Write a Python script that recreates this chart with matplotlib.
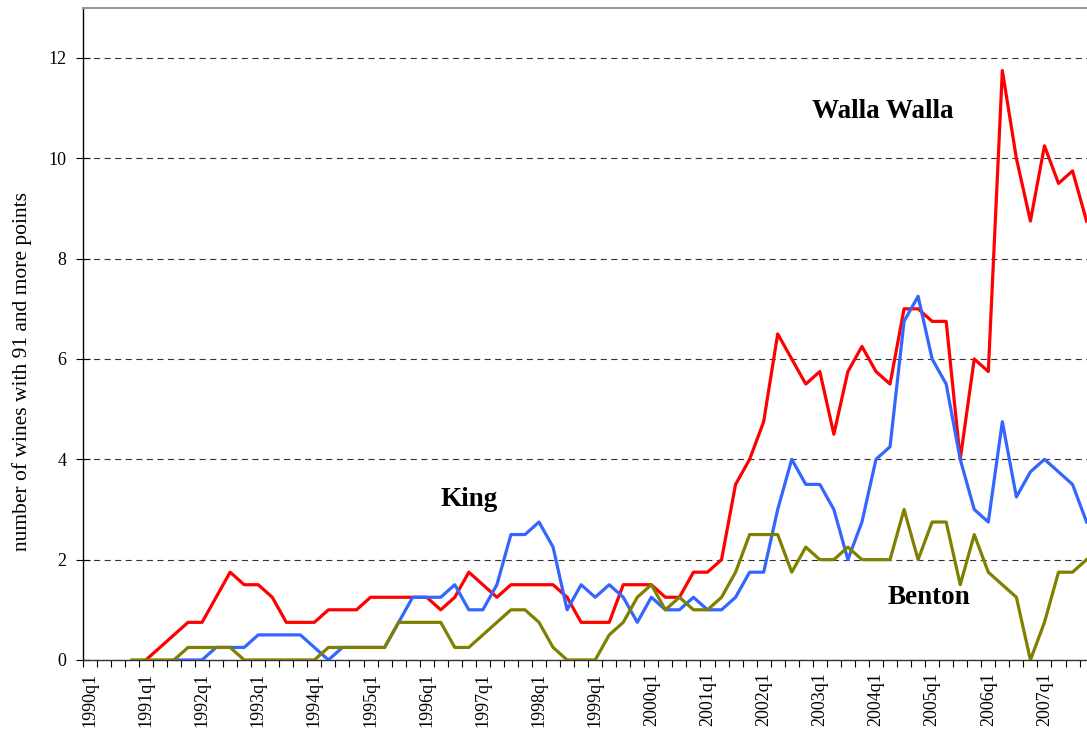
import numpy as np
import matplotlib as mpl
mpl.use('Agg')
import matplotlib.pyplot as plt

mpl.rc('font', family='Liberation Serif', size=13)

nan = np.nan

# quarters 1990q1 .. 2007q4
quarters = [f'{y}q{q}' for y in range(1990, 2008) for q in range(1, 5)]

walla_walla = [nan, nan, nan, nan, 0, 0.25, 0.5, 0.75, 0.75, 1.25,
               1.75, 1.5, 1.5, 1.25, 0.75, 0.75, 0.75, 1.0, 1.0, 1.0,
               1.25, 1.25, 1.25, 1.25, 1.25, 1.0, 1.25, 1.75, 1.5, 1.25,
               1.5, 1.5, 1.5, 1.5, 1.25, 0.75, 0.75, 0.75, 1.5, 1.5,
               1.5, 1.25, 1.25, 1.75, 1.75, 2.0, 3.5, 4.0, 4.75, 6.5,
               6.0, 5.5, 5.75, 4.5, 5.75, 6.25, 5.75, 5.5, 7.0, 7.0,
               6.75, 6.75, 4.0, 6.0, 5.75, 11.75, 10.0, 8.75, 10.25, 9.5,
               9.75, 8.75]

king = [nan, nan, nan, nan, nan, nan, 0, 0, 0, 0.25,
        0.25, 0.25, 0.5, 0.5, 0.5, 0.5, 0.25, 0, 0.25, 0.25,
        0.25, 0.25, 0.75, 1.25, 1.25, 1.25, 1.5, 1.0, 1.0, 1.5,
        2.5, 2.5, 2.75, 2.25, 1.0, 1.5, 1.25, 1.5, 1.25, 0.75,
        1.25, 1.0, 1.0, 1.25, 1.0, 1.0, 1.25, 1.75, 1.75, 3.0,
        4.0, 3.5, 3.5, 3.0, 2.0, 2.75, 4.0, 4.25, 6.75, 7.25,
        6.0, 5.5, 4.0, 3.0, 2.75, 4.75, 3.25, 3.75, 4.0, 3.75,
        3.5, 2.75]

benton = [nan, nan, nan, 0, 0, 0, 0, 0.25, 0.25, 0.25,
          0.25, 0, 0, 0, 0, 0, 0, 0.25, 0.25, 0.25,
          0.25, 0.25, 0.75, 0.75, 0.75, 0.75, 0.25, 0.25, 0.5, 0.75,
          1.0, 1.0, 0.75, 0.25, 0, 0, 0, 0.5, 0.75, 1.25,
          1.5, 1.0, 1.25, 1.0, 1.0, 1.25, 1.75, 2.5, 2.5, 2.5,
          1.75, 2.25, 2.0, 2.0, 2.25, 2.0, 2.0, 2.0, 3.0, 2.0,
          2.75, 2.75, 1.5, 2.5, 1.75, 1.5, 1.25, 0, 0.75, 1.75,
          1.75, 2.0]

x = np.arange(len(quarters))

fig = plt.figure(figsize=(10.87, 7.32), dpi=100)
ax = fig.add_axes([0.0761, 0.0984, 0.9239, 0.8909])

ax.plot(x, walla_walla, color='#ff0000', lw=2.3, zorder=3)
ax.plot(x, king, color='#3366ff', lw=2.3, zorder=4)
ax.plot(x, benton, color='#808000', lw=2.3, zorder=5)

ax.set_xlim(-0.5, 71.03)
ax.set_ylim(0, 13)

# y axis
ax.set_yticks(np.arange(0, 13, 2))
ax.yaxis.grid(True, ls=(0, (5.5, 4)), color='#333333', lw=0.8)
ax.tick_params(axis='y', length=9.5, width=0.8, direction='inout', labelsize=13, pad=7)
ax.set_ylabel('number of wines with 91 and more points', fontsize=15.5)
ax.yaxis.set_label_coords(-0.0505, 0.4416)

# x axis: ticks between quarters, labels on every q1
ax.set_xticks(np.arange(len(quarters)) - 0.5)
ax.set_xticklabels([])
ax.tick_params(axis='x', which='major', length=5, width=0.8, direction='out')
ax.set_xticks(x[::4], minor=True)
ax.set_xticklabels(quarters[::4], minor=True, rotation=90, fontsize=13)
ax.tick_params(axis='x', which='minor', length=0, pad=9)

for side in ['left', 'bottom']:
    ax.spines[side].set_color('#000000')
    ax.spines[side].set_linewidth(1.0)
ax.spines['bottom'].set_color('#333333')
ax.spines['top'].set_color('#999999')
ax.spines['top'].set_linewidth(1.5)
ax.spines['right'].set_visible(False)

ax.text(56.5, 10.94, 'Walla Walla', ha='center', va='center', fontsize=19.5, fontweight='bold')
ax.text(27.0, 3.19, 'King', ha='center', va='center', fontsize=19.5, fontweight='bold')
ax.text(59.8, 1.24, 'Benton', ha='center', va='center', fontsize=19.5, fontweight='bold')

fig.savefig('out.png', dpi=100)
